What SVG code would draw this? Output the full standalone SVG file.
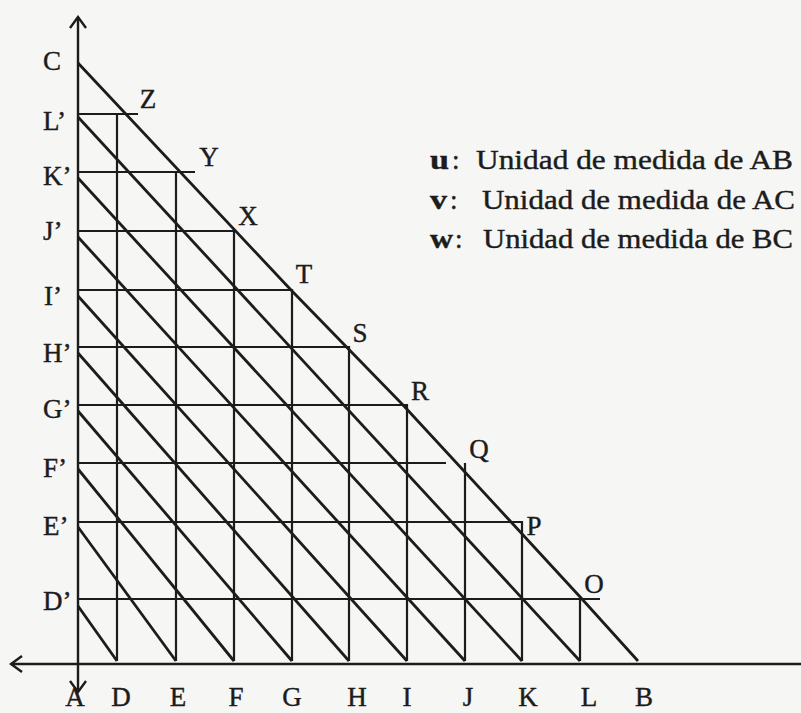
<svg xmlns="http://www.w3.org/2000/svg" width="801" height="713" viewBox="0 0 801 713">
  <style>
    .ln { stroke: #1c1c1c; fill: none; stroke-linecap: butt; }
    .ax { stroke-width: 2.4; }
    .hv { stroke-width: 2.2; }
    .dg { stroke-width: 2.8; }
    .lbl { font-family: "Liberation Serif", "Times New Roman", serif; font-size: 27px; fill: #1c1c1c; stroke: #1c1c1c; stroke-width: 0.4; }
    .mid { text-anchor: middle; }
    .b { font-weight: bold; }
  </style>
  <defs>
    <marker id="arr" viewBox="-14 -10 16 20" refX="0" refY="0" markerWidth="16" markerHeight="20" markerUnits="userSpaceOnUse" orient="auto-start-reverse">
      <path d="M-11,-8 L0,0 L-11,8" fill="none" stroke="#1c1c1c" stroke-width="2.4"/>
    </marker>
  </defs>
  <rect x="0" y="0" width="801" height="713" fill="#f6f6f4"/>

  <g id="axes" class="ln ax">
    <line x1="78" y1="692" x2="78" y2="17" marker-start="url(#arr)" marker-end="url(#arr)"/>
    <line x1="801" y1="664" x2="11" y2="664" marker-end="url(#arr)"/>
  </g>

  <g id="connectors" class="ln">
    <g id="horizontals" class="hv">
      <line x1="78" y1="114" x2="138" y2="114"/>
      <line x1="78" y1="172" x2="195" y2="172"/>
      <line x1="78" y1="231" x2="235" y2="231"/>
      <line x1="78" y1="290" x2="293" y2="290"/>
      <line x1="78" y1="347" x2="350" y2="347"/>
      <line x1="78" y1="405" x2="408" y2="405"/>
      <line x1="78" y1="463" x2="446" y2="463"/>
      <line x1="78" y1="522" x2="523" y2="522"/>
      <line x1="78" y1="599" x2="600" y2="599"/>
    </g>
    <g id="verticals" class="hv">
      <line x1="117" y1="661" x2="117" y2="113"/>
      <line x1="176" y1="661" x2="176" y2="171"/>
      <line x1="234" y1="661" x2="234" y2="230"/>
      <line x1="292" y1="661" x2="292" y2="289"/>
      <line x1="349" y1="661" x2="349" y2="346"/>
      <line x1="407" y1="661" x2="407" y2="404"/>
      <line x1="465" y1="661" x2="465" y2="463"/>
      <line x1="522" y1="661" x2="522" y2="521"/>
      <line x1="580" y1="661" x2="580" y2="598"/>
    </g>
    <g id="diagonals" class="dg">
      <path d="M78,63 L291,290 L403,405 L512,523 L582,599 L638,661"/>
      <line x1="78" y1="117" x2="580" y2="661"/>
      <line x1="78" y1="178" x2="522" y2="661"/>
      <line x1="78" y1="237" x2="465" y2="661"/>
      <line x1="78" y1="296" x2="407" y2="661"/>
      <line x1="78" y1="353" x2="349" y2="661"/>
      <line x1="78" y1="411" x2="292" y2="661"/>
      <line x1="78" y1="469" x2="234" y2="661"/>
      <line x1="78" y1="527" x2="176" y2="661"/>
      <line x1="78" y1="606" x2="117" y2="661"/>
    </g>
  </g>

  <g id="labels-left" class="lbl">
    <text x="43" y="70">C</text>
    <text x="43" y="130">L’</text>
    <text x="43" y="185">K’</text>
    <text x="43" y="240">J’</text>
    <text x="44" y="305">I’</text>
    <text x="43" y="362">H’</text>
    <text x="43" y="418">G’</text>
    <text x="43" y="477">F’</text>
    <text x="43" y="535">E’</text>
    <text x="43" y="610">D’</text>
  </g>

  <g id="labels-bottom" class="lbl mid">
    <text x="75" y="706">A</text>
    <text x="121" y="706">D</text>
    <text x="178" y="706">E</text>
    <text x="236" y="706">F</text>
    <text x="292" y="706">G</text>
    <text x="357" y="706">H</text>
    <text x="407" y="706">I</text>
    <text x="468" y="706">J</text>
    <text x="528" y="706">K</text>
    <text x="589" y="706">L</text>
    <text x="644" y="706">B</text>
  </g>

  <g id="labels-hyp" class="lbl mid">
    <text x="148" y="108">Z</text>
    <text x="209" y="166">Y</text>
    <text x="248" y="225">X</text>
    <text x="304" y="283">T</text>
    <text x="360" y="342">S</text>
    <text x="420" y="400">R</text>
    <text x="479" y="458">Q</text>
    <text x="534" y="535">P</text>
    <text x="594" y="593">O</text>
  </g>

  <g id="legend" class="lbl">
    <text x="430" y="169" class="b" textLength="19" lengthAdjust="spacingAndGlyphs">u</text>
    <text x="452" y="169">:</text>
    <text x="476" y="169" textLength="317" lengthAdjust="spacingAndGlyphs">Unidad de medida de AB</text>
    <text x="430" y="209" class="b" textLength="17" lengthAdjust="spacingAndGlyphs">v</text>
    <text x="450" y="209">:</text>
    <text x="482" y="209" textLength="313" lengthAdjust="spacingAndGlyphs">Unidad de medida de AC</text>
    <text x="430" y="248" class="b" textLength="23" lengthAdjust="spacingAndGlyphs">w</text>
    <text x="455" y="248">:</text>
    <text x="483" y="248" textLength="310" lengthAdjust="spacingAndGlyphs">Unidad de medida de BC</text>
  </g>
</svg>
